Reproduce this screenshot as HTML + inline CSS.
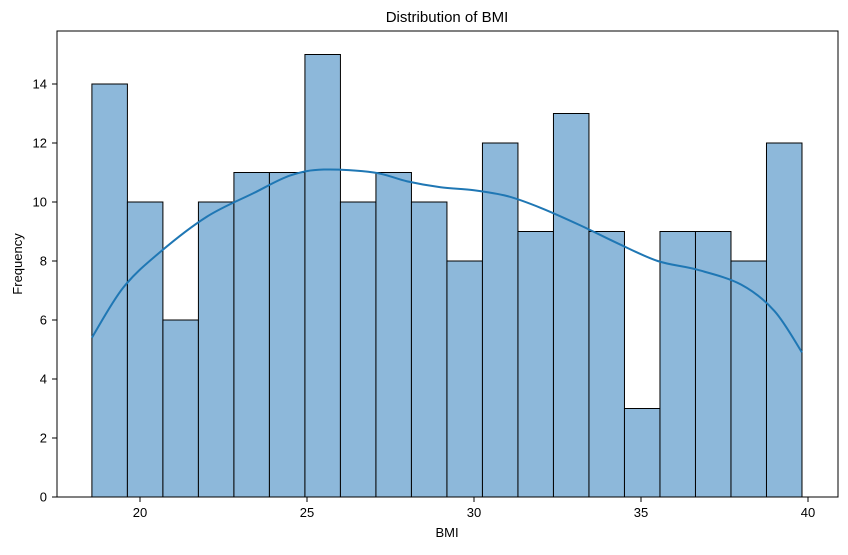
<!DOCTYPE html>
<html><head><meta charset="utf-8"><style>
body{margin:0;background:#fff;font-family:"Liberation Sans",sans-serif}
</style></head><body>
<svg id="chart" width="848" height="550" xmlns="http://www.w3.org/2000/svg" font-family="Liberation Sans, sans-serif">
<rect width="848" height="550" fill="#fff"/>
<text x="447" y="22" text-anchor="middle" font-size="15">Distribution of BMI</text>
<g id="bars"></g>
<path id="kde" fill="none" stroke="#1f77b4" stroke-width="2"/>
<rect x="57" y="31" width="781" height="466" fill="none" stroke="#000" stroke-width="1"/>
<g id="xt"></g><g id="yt"></g>
<text x="447" y="537" text-anchor="middle" font-size="13">BMI</text>
<text transform="translate(22,264) rotate(-90)" text-anchor="middle" font-size="13">Frequency</text>
</svg>
<script>
const counts=[14,10,6,10,11,11,15,10,11,10,8,12,9,13,9,3,9,9,8,12];
const binStart=18.56, binEnd=39.82;
const kdeX=[18.56,19.5,20.6,22,23.4,24.5,25.5,27,28,29,30,31,32,33.2,34.3,35.5,36.7,38,39,39.82];
const kdeY=[5.4,7.1,8.3,9.5,10.3,10.9,11.1,11.0,10.7,10.5,10.4,10.2,9.8,9.2,8.6,8.0,7.7,7.2,6.3,4.9];
const xTicks=[20,25,30,35,40];
const yTicks=[0,2,4,6,8,10,12,14];
const X=v=>140+(v-20)*33.4, Y=v=>497-v*29.5;
const NS="http://www.w3.org/2000/svg";
const bars=document.getElementById('bars');
const w=(binEnd-binStart)/counts.length;
counts.forEach((c,i)=>{
 const r=document.createElementNS(NS,'rect');
 const x0=X(binStart+i*w),x1=X(binStart+(i+1)*w);
 r.setAttribute('x',x0);r.setAttribute('width',x1-x0);
 r.setAttribute('y',Y(c));r.setAttribute('height',Y(0)-Y(c));
 r.setAttribute('fill','#8db8da');r.setAttribute('stroke','#000');r.setAttribute('stroke-width','1');
 
 
 bars.appendChild(r);
});
// smooth path via catmull-rom
let pts=kdeX.map((x,i)=>[X(x),Y(kdeY[i])]);
let d='M'+pts[0].join(',');
for(let i=0;i<pts.length-1;i++){
 const p0=pts[i-1]||pts[i],p1=pts[i],p2=pts[i+1],p3=pts[i+2]||p2;
 d+=` C${p1[0]+(p2[0]-p0[0])/6},${p1[1]+(p2[1]-p0[1])/6} ${p2[0]-(p3[0]-p1[0])/6},${p2[1]-(p3[1]-p1[1])/6} ${p2[0]},${p2[1]}`;
}
document.getElementById('kde').setAttribute('d',d);
const xt=document.getElementById('xt');
xTicks.forEach(t=>{
 const l=document.createElementNS(NS,'line');
 l.setAttribute('x1',X(t));l.setAttribute('x2',X(t));l.setAttribute('y1',497);l.setAttribute('y2',502);l.setAttribute('stroke','#000');
 
 
 xt.appendChild(l);
 const s=document.createElementNS(NS,'text');
 s.setAttribute('x',X(t));s.setAttribute('y',517);s.setAttribute('text-anchor','middle');s.setAttribute('font-size','13');
 s.textContent=t;
 
 
 xt.appendChild(s);
});
const yt=document.getElementById('yt');
yTicks.forEach(t=>{
 const l=document.createElementNS(NS,'line');
 l.setAttribute('x1',52);l.setAttribute('x2',57);l.setAttribute('y1',Y(t));l.setAttribute('y2',Y(t));l.setAttribute('stroke','#000');
 
 
 yt.appendChild(l);
 const s=document.createElementNS(NS,'text');
 s.setAttribute('x',47);s.setAttribute('y',Y(t)+4.5);s.setAttribute('text-anchor','end');s.setAttribute('font-size','13');
 s.textContent=t;
 
 
 yt.appendChild(s);
});
</script>
</body></html>
